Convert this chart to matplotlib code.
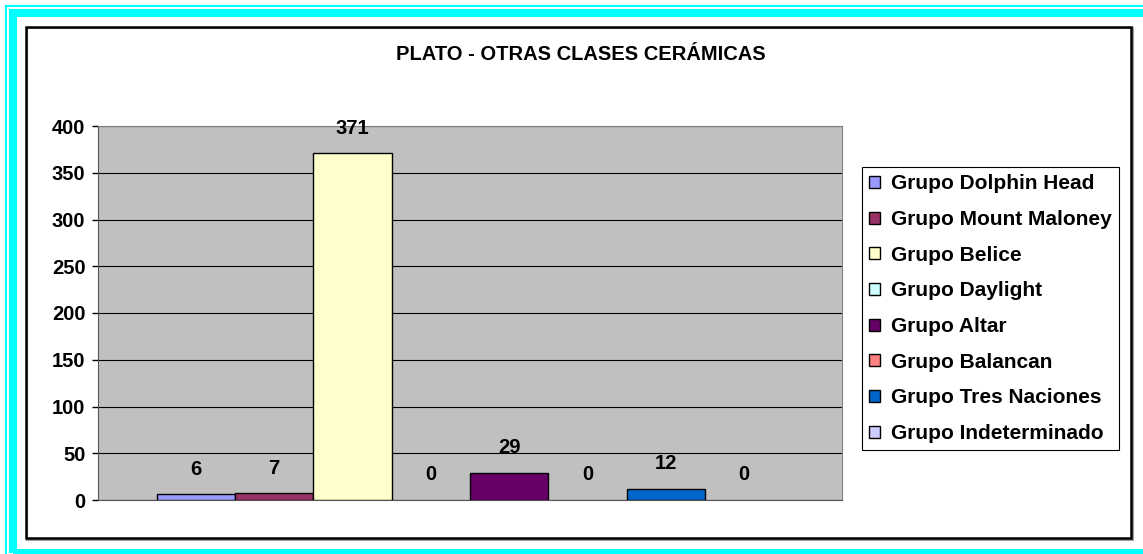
import matplotlib.pyplot as plt
from matplotlib.patches import Rectangle, Patch

# data
groups = ['Grupo Dolphin Head', 'Grupo Mount Maloney', 'Grupo Belice', 'Grupo Daylight',
          'Grupo Altar', 'Grupo Balancan', 'Grupo Tres Naciones', 'Grupo Indeterminado']
values = [6, 7, 371, 0, 29, 0, 12, 0]
colors = ['#9999FF', '#993366', '#FFFFCC', '#CCFFFF', '#660066', '#FF8080', '#0066CC', '#CCCCFF']
title = 'PLATO - OTRAS CLASES CERÁMICAS'

W, H = 1143, 554
FS = 14.5
plt.rcParams['font.family'] = ['Liberation Sans', 'DejaVu Sans']
fig = plt.figure(figsize=(W / 100, H / 100), dpi=100)


def fx(x):
    return x / W


def fy(y):
    return 1 - y / H


def rect(x0, y0, x1, y1, **kw):
    fig.patches.append(Rectangle((fx(x0), fy(y1)), fx(x1) - fx(x0), fy(y0) - fy(y1),
                                 transform=fig.transFigure, figure=fig, **kw))


# decorative borders
rect(6, 6, 1170, 580, fill=False, edgecolor='#00FFFF', lw=1.5)
rect(13, 13, 1170, 553, fill=False, edgecolor='#00FFFF', lw=5.8)
rect(27, 28, 1133, 540, fill=False, edgecolor='#A0A0A0', lw=1.5)
rect(26, 27, 1131, 538, fill=False, edgecolor='black', lw=1.8)

ax = fig.add_axes([fx(98), fy(500), fx(842) - fx(98), fy(126) - fy(500)])
ax.set_facecolor('#C0C0C0')

w = 1 / 9.5
for i, (g, v, c) in enumerate(zip(groups, values, colors)):
    x = 0.5 + (i - 3.5) * w
    ax.bar(x, v, width=w, color=c, edgecolor='black', lw=1 if v else 0, label=g, zorder=3)
    ax.annotate(str(v), (x, v), xytext=(0, 18), textcoords='offset points',
                ha='center', va='center', fontsize=FS, fontweight='bold', zorder=5)

ax.set_xlim(0, 1)
ax.set_ylim(0, 400)
ax.set_yticks(range(0, 401, 50))
ax.set_xticks([])
ax.yaxis.grid(True, color='black', lw=0.8, zorder=1)
ax.set_axisbelow(True)
ax.tick_params(axis='y', length=4, width=1, pad=5, labelsize=FS)
for lab in ax.get_yticklabels():
    lab.set_fontweight('bold')
for s in ['top', 'right']:
    ax.spines[s].set_color('#808080')
ax.spines['left'].set_color('#555555')
ax.spines['bottom'].set_color('#555555')

fig.text(fx(581), fy(54), title, ha='center', va='center', fontsize=FS,
         fontweight='bold')

handles = [Patch(facecolor=c, edgecolor='black', lw=1) for c in colors]
leg = fig.legend(handles, groups, loc='upper left',
                 bbox_to_anchor=(fx(862), fy(167)),
                 prop={'weight': 'bold', 'size': 15}, frameon=True, fancybox=False,
                 edgecolor='black', framealpha=1, borderpad=0.35, labelspacing=0.8,
                 handlelength=0.5, handleheight=0.5, handletextpad=0.55, borderaxespad=0)
leg.get_frame().set_linewidth(0.8)

fig.savefig('out.png', dpi=100)
